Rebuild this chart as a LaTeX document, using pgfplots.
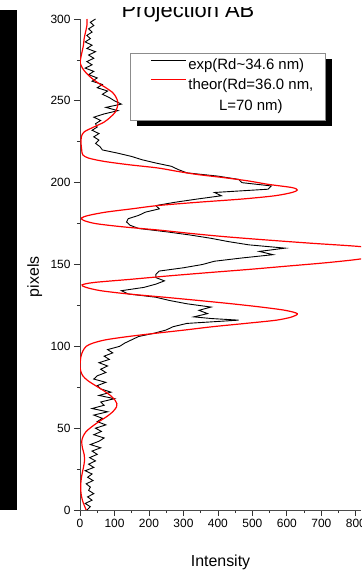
\documentclass[border=0pt]{standalone}
\usepackage{fontspec}
\setmainfont{Liberation Sans}
\usepackage{pgfplots}
\pgfplotsset{compat=1.18}
\begin{document}
\begin{tikzpicture}
\begin{axis}[
 name=ax,
 scale only axis,
 width=281bp, height=491bp,
 xmin=0, xmax=815, ymin=0, ymax=300,
 axis x line*=bottom, axis y line*=left,
 axis line style={black!70, line width=0.8bp, -},
 xtick={0,100,...,800}, ytick={0,50,...,300},
 minor xtick={50,150,...,750}, minor ytick={25,75,...,275},
 tick align=outside,
 major tick length=6bp, minor tick length=3bp,
 tick style={black!80, line width=0.8bp},
 ticklabel style={font=\fontsize{12}{14}\selectfont},
 /pgf/number format/assume math mode=true,
 xlabel={Intensity}, ylabel={pixels},
 label style={font=\fontsize{16}{18}\selectfont},
 xlabel style={at={(axis description cs:0.5,-0.116)}, anchor=base},
 ylabel style={at={(axis description cs:-0.146,0.475)}, anchor=base},
 legend style={at={(axis description cs:0.249,0.9246)}, anchor=north west, draw=none, fill=none,
   inner sep=0pt, font=\fontsize{15}{21}\selectfont, row sep=0bp, nodes={inner sep=2bp}},
 legend cell align=left,
 legend image code/.code={\draw[#1] (0bp,0.35em) -- (35bp,0.35em);},
]
\fill[black] (axis description cs:0.2028,0.9186) rectangle (axis description cs:0.8968,0.7821);
\filldraw[fill=white, draw=black!45, line width=0.8bp] (axis description cs:0.178,0.9308) rectangle (axis description cs:0.872,0.7943);
\addplot[black, line width=0.9bp] coordinates {
(20,0) (30,2) (15,4) (35,6) (22,8) (40,10) (25,12) (30,14) (18,16) (38,18)
(22,20) (35,22) (15,24) (40,26) (25,28) (45,30) (28,32) (50,34) (35,36) (60,38)
(30,40) (55,42) (70,44) (40,46) (62,48) (45,50) (75,52) (50,54) (65,56) (40,58)
(80,60) (35,62) (70,64) (60,66) (100,68) (55,70) (90,72) (60,74) (50,76) (75,78)
(40,80) (50,82) (75,84) (60,86) (80,88) (55,90) (85,92) (70,94) (95,96) (80,98)
(115,100) (130,102) (150,104) (170,106) (215,108) (250,110) (270,112) (310,114) (460,116) (380,117)
(330,118) (370,120) (345,122) (380,124) (310,126) (260,128) (220,130) (140,132) (120,134) (185,136)
(220,138) (245,140) (220,142) (220,144) (230,146) (300,148) (355,150) (390,152) (470,154) (560,156)
(520,158) (595,160) (490,162) (430,164) (380,166) (320,168) (250,170) (170,172) (145,174) (135,176)
(140,178) (170,180) (190,182) (230,184) (220,186) (275,188) (340,190) (410,192) (390,194) (545,196)
(555,198) (470,200) (460,202) (400,204) (310,206) (285,208) (265,210) (220,212) (180,214) (150,216)
(110,218) (65,220) (58,222) (45,224) (55,226) (40,228) (55,230) (35,232) (50,234) (45,236)
(60,238) (40,240) (70,242) (110,244) (75,246) (120,248) (100,250) (85,252) (65,254) (80,256)
(50,258) (65,260) (35,262) (50,264) (25,266) (40,268) (15,270) (35,272) (20,274) (40,276)
(25,278) (45,280) (20,282) (35,284) (15,286) (30,288) (20,290) (35,292) (25,294) (40,296)
(30,298) (45,300)
};
\addlegendentry{exp(Rd\textasciitilde 34.6 nm)}
\addplot[red, line width=1.2bp, smooth, tension=0.5] coordinates {
(18,0) (12,3) (7,6) (3,10) (2,14) (3,18) (6,22) (10,26) (13,30) (12,34)
(7,38) (5,42) (9,45) (18,48) (35,51) (55,54) (77,57) (95,60) (106,63) (107,65)
(102,67) (88,70) (68,73) (45,76) (23,79) (8,82) (2,85) (0,88) (1,91) (3,94)
(8,97) (18,100) (38,102) (75,104) (140,106) (220,108) (305,110) (385,112) (480,114) (570,116)
(615,118) (630,120) (595,122) (525,124) (440,126) (345,128) (245,130) (140,132) (60,134) (18,136)
(6,137.5) (40,139) (150,141) (255,143) (370,145) (490,147) (600,149) (710,151) (800,153) (860,155)
(890,157) (880,159) (810,161) (670,163) (540,165) (420,167) (320,169) (230,171) (125,173) (45,175)
(10,177) (5,178.5) (25,180) (75,182) (150,184) (225,186) (340,188) (470,190) (565,192) (615,194)
(630,195.5) (615,197) (545,199) (490,201) (420,203) (340,205) (280,207) (225,209) (140,211) (70,213)
(25,215) (8,217) (5,220) (3,224) (4,228) (12,231) (40,234) (70,237) (88,240) (102,243)
(108,246) (110,249) (105,252) (95,255) (75,258) (52,261) (33,264) (18,267) (7,270) (1,273)
(2,276) (6,280) (10,284) (12,288) (16,292) (20,296) (20,300)
};
\addlegendentry{\begin{tabular}[t]{@{}c@{}}theor(Rd=36.0 nm,\\L=70 nm)\end{tabular}}
\end{axis}
\fill[black] ([xshift=-80bp]ax.south west) rectangle ([xshift=-63bp,yshift=9bp]ax.north west);
\node[anchor=base, font=\fontsize{22}{24}\selectfont, inner sep=0pt] at ([xshift=108bp,yshift=1bp]ax.north west) {Projection AB};
\fill[white] ([xshift=-80bp,yshift=12bp]ax.north west) rectangle ([yshift=19bp]ax.north east);
\pgfresetboundingbox
\path[use as bounding box] ([xshift=-80bp,yshift=-62bp]ax.south west) rectangle ([yshift=19bp]ax.north east);
\end{tikzpicture}
\end{document}
